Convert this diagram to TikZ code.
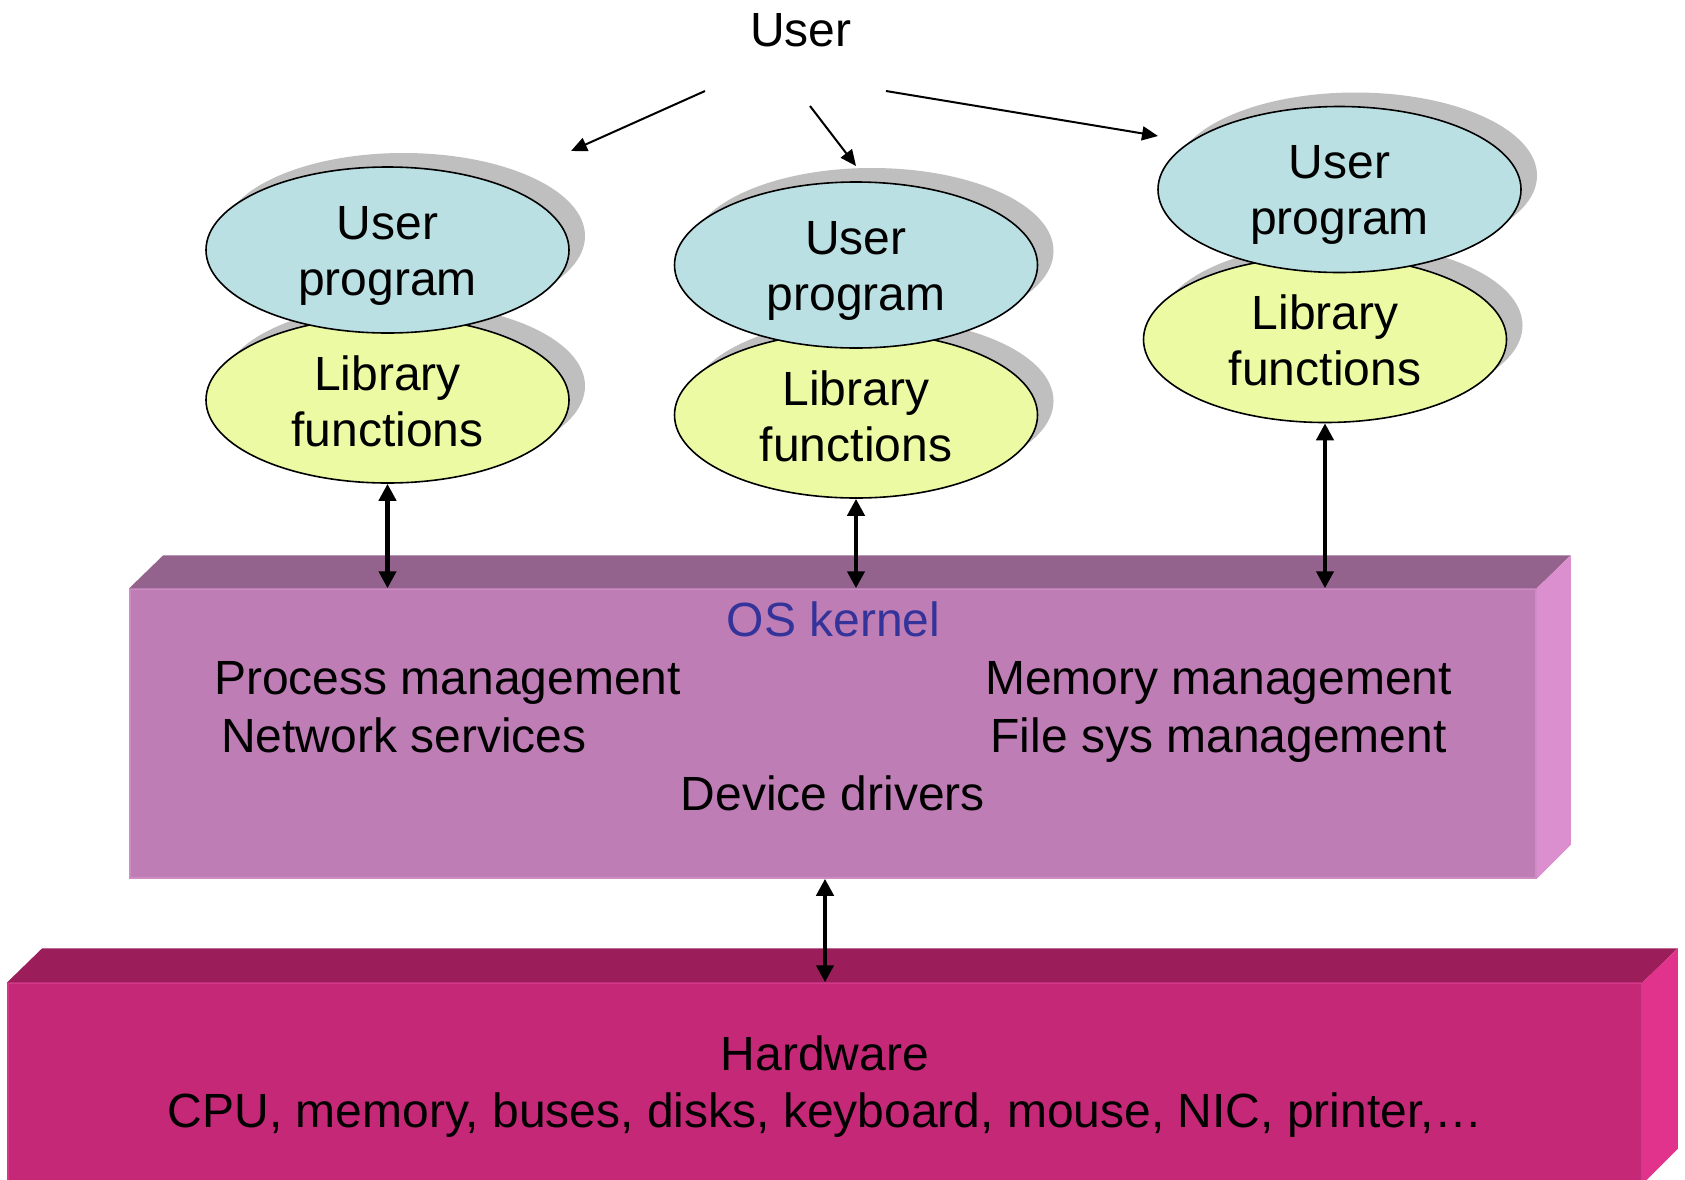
\documentclass[tikz,border=0pt]{standalone}
\usepackage{fontspec}
\setmainfont{Liberation Sans}
\usetikzlibrary{arrows.meta,shapes.geometric,calc}
\definecolor{userfill}{RGB}{187,224,227}
\definecolor{libfill}{RGB}{235,250,163}
\definecolor{shadowgray}{RGB}{191,191,191}
\definecolor{kfront}{RGB}{191,125,181}
\definecolor{ktop}{RGB}{148,99,141}
\definecolor{kside}{RGB}{219,143,206}
\definecolor{kedge}{RGB}{206,140,197}
\definecolor{hfront}{RGB}{197,40,119}
\definecolor{htop}{RGB}{155,30,90}
\definecolor{hside}{RGB}{225,50,140}
\definecolor{hedge}{RGB}{212,56,137}
\definecolor{osblue}{RGB}{51,51,153}
\begin{document}
\begin{tikzpicture}[x=1pt,y=-1pt,
  oval/.style={ellipse, draw=black, line width=1.6pt, minimum width=363pt, minimum height=166pt, inner sep=0pt},
  ovalshadow/.style={ellipse, fill=shadowgray, minimum width=363pt, minimum height=166pt, inner sep=0pt},
  lbl/.style={font=\fontsize{48}{56}\selectfont, align=center, inner sep=0pt},
  txt/.style={font=\fontsize{48}{57}\selectfont, inner sep=0pt, anchor=base},
  thinarrow/.style={line width=2pt, -{Triangle[length=16pt,width=14pt]}},
  botharrow/.style={line width=4.2pt, {Triangle[length=17pt,width=17pt]}-{Triangle[length=17pt,width=17pt]}},
  kbox/.style={rectangle, inner sep=0pt, fill=kfront, draw=kedge, line width=1.5pt},
  hbox/.style={rectangle, inner sep=0pt, fill=hfront, draw=hedge, line width=1.5pt},
]
\useasboundingbox[fill=white] (0,0) rectangle (1685,1179);

% ---------- OS kernel block ----------
\node[kbox, minimum width=1406pt, minimum height=289pt] (kernel) at (833,733.5) {};
\fill[ktop] (kernel.north west) -- ++(34,-33) -- ($(kernel.north east)+(34,-33)$) -- (kernel.north east) -- cycle;
\fill[kside] (kernel.north east) -- ++(34,-33) -- ($(kernel.south east)+(34,-34)$) -- (kernel.south east) -- cycle;

% ---------- Hardware block ----------
\node[hbox, minimum width=1634pt, minimum height=200pt] (hw) at (825,1083) {};
\fill[htop] (hw.north west) -- ++(35,-34) -- ($(hw.north east)+(35,-34)$) -- (hw.north east) -- cycle;
\fill[hside] (hw.north east) -- ++(35,-34) -- ($(hw.south east)+(35,-35)$) -- (hw.south east) -- cycle;

% ---------- ellipses ----------
% column 1
\node[ovalshadow] (l1s) at (403.5,386) {};
\node[oval, fill=libfill] (l1) at (387.5,400) {};
\node[ovalshadow] (u1s) at (403.5,236) {};
\node[oval, fill=userfill] (u1) at (387.5,250) {};
% column 2
\node[ovalshadow] (l2s) at (872,401) {};
\node[oval, fill=libfill] (l2) at (856,415) {};
\node[ovalshadow] (u2s) at (872,251) {};
\node[oval, fill=userfill] (u2) at (856,265) {};
% column 3
\node[ovalshadow] (l3s) at (1341,325.5) {};
\node[oval, fill=libfill] (l3) at (1325,339.5) {};
\node[ovalshadow] (u3s) at (1355.5,175.5) {};
\node[oval, fill=userfill] (u3) at (1339.5,189.5) {};

% ellipse labels
\node[lbl] (tu1) at ($(u1.center)+(0,5.5)$) {User\\program};
\node[lbl] (tl1) at ($(l1.center)+(0,1)$) {Library\\functions};
\node[lbl] (tu2) at ($(u2.center)+(0,5.5)$) {User\\program};
\node[lbl] (tl2) at ($(l2.center)+(0,1)$) {Library\\functions};
\node[lbl] (tu3) at ($(u3.center)+(0,5.5)$) {User\\program};
\node[lbl] (tl3) at ($(l3.center)+(0,1)$) {Library\\functions};

% ---------- User and its arrows ----------
\node[txt] (user) at (801,46) {User};
\coordinate (a1s) at (705,91);
\coordinate (a1e) at (571,151);
\coordinate (a2s) at (810,106);
\coordinate (a2e) at (856,166);
\coordinate (a3s) at (886,91);
\coordinate (a3e) at (1158,136);
\draw[thinarrow] (a1s) -- (a1e);
\draw[thinarrow] (a2s) -- (a2e);
\draw[thinarrow] (a3s) -- (a3e);

% ---------- double arrows ----------
\draw[botharrow] (l1.south) -- (l1.south |- kernel.north);
\draw[botharrow] (l2.south) -- (l2.south |- kernel.north);
\draw[botharrow] (l3.south) -- (l3.south |- kernel.north);
\draw[botharrow] (hw.north |- kernel.south) -- (hw.north);

% ---------- kernel texts ----------
\node[txt, text=osblue] (os) at (833.5,636) {OS kernel};
\node[txt, anchor=base west] (pm) at (214,694) {Process management};
\node[txt, anchor=base west] (ns) at (221,752) {Network services};
\node[txt] (mm) at (1218.5,694) {Memory management};
\node[txt] (fs) at (1218.5,752) {File sys management};
\node[txt] (dd) at (833,810) {Device drivers};

% ---------- hardware texts ----------
\node[txt] (hwt) at (825,1070) {Hardware};
\node[txt] (cpu) at (825,1127) {CPU, memory, buses, disks, keyboard, mouse, NIC, printer,…};
\end{tikzpicture}
\end{document}
